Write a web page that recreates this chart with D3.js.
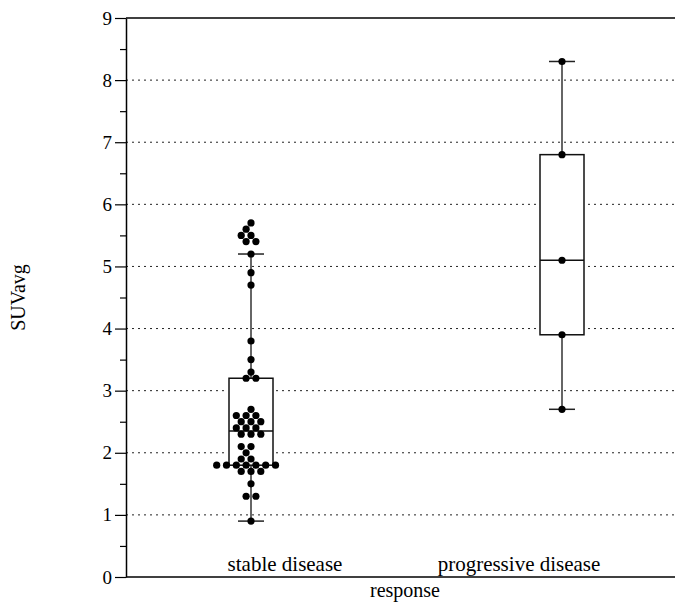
<!DOCTYPE html>
<html>
<head>
<meta charset="utf-8">
<title>SUVavg by response</title>
<script src="https://d3js.org/d3.v7.min.js"></script>
<style>
  body { margin: 0; background: #fff; }
  text { font-family: "Liberation Serif", serif; fill: #000; }
</style>
</head>
<body>
<div id="chart"></div>
<script>
// data
var categories = ["stable disease", "progressive disease"];
var stableValues = [5.7, 5.6, 5.5, 5.5, 5.4, 5.4, 5.2, 4.9, 4.7, 3.8, 3.5, 3.3, 3.2, 3.2,
  2.7, 2.6, 2.6, 2.6, 2.5, 2.5, 2.5, 2.4, 2.4, 2.4, 2.3, 2.3, 2.3, 2.1, 2.1, 2.0,
  1.9, 1.9, 1.8, 1.8, 1.8, 1.8, 1.8, 1.8, 1.8, 1.7, 1.7, 1.7, 1.5, 1.3, 1.3, 0.9];
var progressiveValues = [8.3, 6.8, 5.1, 3.9, 2.7];
var boxQ1 = [1.8, 3.9];
var boxMedian = [2.35, 5.1];
var boxQ3 = [3.2, 6.8];
var whiskerLow = [0.9, 2.7];
var whiskerHigh = [5.2, 8.3];
var yTicks = [0, 1, 2, 3, 4, 5, 6, 7, 8, 9];
var yMinorTicks = [0.5, 1.5, 2.5, 3.5, 4.5, 5.5, 6.5, 7.5, 8.5];
var gridValues = [1, 2, 3, 4, 5, 6, 7, 8];

var width = 675, height = 603;
var plotLeft = 126, plotRight = 675, plotTop = 18, plotBottom = 577;

var svg = d3.select("#chart").append("svg")
  .attr("width", width)
  .attr("height", height);

var y = d3.scaleLinear().domain([0, 9]).range([plotBottom, plotTop]);
var x = d3.scalePoint().domain(categories).range([251, 562]);
var xLabel = d3.scalePoint().domain(categories).range([285, 519]);

var boxW = 44, capW = 26, r = 3.6;

// grid lines
svg.append("g").selectAll("line")
  .data(gridValues)
  .enter().append("line")
  .attr("x1", plotLeft).attr("x2", plotRight)
  .attr("y1", function(d) { return y(d); })
  .attr("y2", function(d) { return y(d); })
  .attr("stroke", "#222")
  .attr("stroke-width", 1)
  .attr("stroke-dasharray", "2,4");

// place equal values side by side, shift rows so neighbours don't overlap
function swarm(values, step, minDist) {
  var rows = d3.groups(values, function(v) { return v; })
    .sort(function(a, b) { return a[0] - b[0]; });
  var placed = [];
  rows.forEach(function(row) {
    var v = row[0], n = row[1].length, py = y(v);
    var shifts = [0];
    for (var k = 1; k < 16; k++) shifts.push(-k * step / 2, k * step / 2);
    for (var i = 0; i < shifts.length; i++) {
      var xs = d3.range(n).map(function(j) { return (j - (n - 1) / 2) * step + shifts[i]; });
      var ok = xs.every(function(dx) {
        return placed.every(function(p) { return Math.hypot(p.dx - dx, p.y - py) >= minDist; });
      });
      if (ok) {
        xs.forEach(function(dx) { placed.push({ value: v, dx: dx, y: py }); });
        break;
      }
    }
  });
  return placed;
}

var groups = [stableValues, progressiveValues];

groups.forEach(function(vals, i) {
  var cx = x(categories[i]);
  var g = svg.append("g");

  // white backing so the grid breaks around the box
  g.append("rect")
    .attr("x", cx - boxW / 2 - 3)
    .attr("y", y(boxQ3[i]) - 3)
    .attr("width", boxW + 6)
    .attr("height", y(boxQ1[i]) - y(boxQ3[i]) + 6)
    .attr("fill", "#fff");

  // whiskers
  g.append("line")
    .attr("x1", cx).attr("x2", cx)
    .attr("y1", y(boxQ3[i])).attr("y2", y(whiskerHigh[i]))
    .attr("stroke", "#333").attr("stroke-width", 1.5);
  g.append("line")
    .attr("x1", cx).attr("x2", cx)
    .attr("y1", y(boxQ1[i])).attr("y2", y(whiskerLow[i]))
    .attr("stroke", "#333").attr("stroke-width", 1.5);
  [whiskerLow[i], whiskerHigh[i]].forEach(function(w) {
    g.append("line")
      .attr("x1", cx - capW / 2).attr("x2", cx + capW / 2)
      .attr("y1", y(w)).attr("y2", y(w))
      .attr("stroke", "#222").attr("stroke-width", 1.5);
  });

  // box
  g.append("rect")
    .attr("x", cx - boxW / 2)
    .attr("y", y(boxQ3[i]))
    .attr("width", boxW)
    .attr("height", y(boxQ1[i]) - y(boxQ3[i]))
    .attr("fill", "none")
    .attr("stroke", "#111")
    .attr("stroke-width", 1.5);
  g.append("line")
    .attr("x1", cx - boxW / 2).attr("x2", cx + boxW / 2)
    .attr("y1", y(boxMedian[i])).attr("y2", y(boxMedian[i]))
    .attr("stroke", "#111").attr("stroke-width", 1.5);

  // points
  g.selectAll("circle")
    .data(swarm(vals, 9.8, 7.5))
    .enter().append("circle")
    .attr("cx", function(d) { return cx + d.dx; })
    .attr("cy", function(d) { return d.y; })
    .attr("r", r)
    .attr("fill", "#000");
});

// y axis with minor ticks
var yAxis = svg.append("g")
  .attr("transform", "translate(" + plotLeft + ",0)")
  .call(d3.axisLeft(y).tickValues(yTicks).tickSize(11).tickSizeOuter(0).tickPadding(3));
yAxis.select(".domain").attr("stroke-width", 1.5);
yAxis.selectAll(".tick line").attr("stroke-width", 1.2);
yAxis.selectAll(".tick text")
  .style("font-family", "'Liberation Serif', serif")
  .style("font-size", "19px")
  .attr("fill", "#000");

var yMinor = svg.append("g")
  .attr("transform", "translate(" + plotLeft + ",0)")
  .call(d3.axisLeft(y).tickValues(yMinorTicks).tickSize(6).tickSizeOuter(0).tickFormat(""));
yMinor.select(".domain").remove();
yMinor.selectAll(".tick line").attr("stroke-width", 1.2);

// top and bottom frame lines
svg.append("line")
  .attr("x1", plotLeft).attr("x2", plotRight)
  .attr("y1", y(9)).attr("y2", y(9))
  .attr("stroke", "#000").attr("stroke-width", 1.5);
svg.append("line")
  .attr("x1", plotLeft).attr("x2", plotRight)
  .attr("y1", y(0)).attr("y2", y(0))
  .attr("stroke", "#000").attr("stroke-width", 1.5);

// category labels sit just above the bottom line
svg.append("g").selectAll("text")
  .data(categories)
  .enter().append("text")
  .attr("x", function(d) { return xLabel(d); })
  .attr("y", plotBottom - 6)
  .attr("text-anchor", "middle")
  .style("font-size", "21px")
  .text(function(d) { return d; });

// axis titles
svg.append("text")
  .attr("x", 405)
  .attr("y", 597)
  .attr("text-anchor", "middle")
  .style("font-size", "20px")
  .text("response");

svg.append("text")
  .attr("transform", "translate(25," + ((plotTop + plotBottom) / 2) + ") rotate(-90)")
  .attr("text-anchor", "middle")
  .style("font-size", "20px")
  .text("SUVavg");
</script>
</body>
</html>
